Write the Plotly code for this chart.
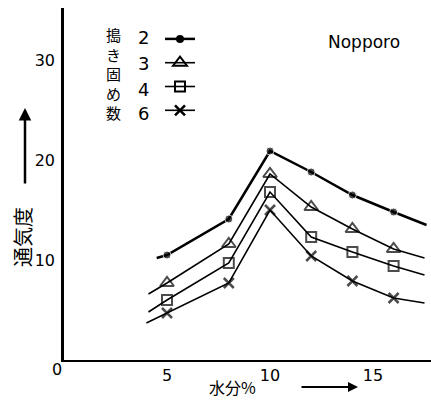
import plotly.graph_objects as go

# ---- data ----
moisture = [5, 8, 10, 12, 14, 16]          # 水分 %
tamp_counts = ["2", "3", "4", "6"]          # 搗き固め数
perm_2 = [10.5, 14.1, 20.9, 18.8, 16.5, 14.8]
perm_3 = [7.7, 11.6, 18.6, 15.3, 13.1, 11.1]
perm_4 = [6.0, 9.7, 16.8, 12.3, 10.8, 9.4]
perm_6 = [4.7, 7.7, 15.0, 10.4, 7.9, 6.2]
# hand-drawn line overhang at both ends (x, y)
ext_left_x = [4.5, 4.1, 4.1, 4.0]
ext_left_y = [10.2, 6.6, 4.8, 3.7]
ext_right_x = [17.6, 17.5, 17.5, 17.5]
ext_right_y = [13.5, 10.2, 8.5, 5.7]
y_ticks = [10, 20, 30]
x_ticks = [5, 10, 15]

# ---- geometry ----
W, H = 431, 400
L, R, T, B = 64, 0, 8, 40
PW, PH = W - L - R, H - T - B

def px(x):
    return (x - L) / PW

def py(y):
    return (H - B - y) / PH

series = [perm_2, perm_3, perm_4, perm_6]
markers = [
    dict(symbol="circle", size=8, color="black"),
    dict(symbol="triangle-up-open", size=12, color="black", line=dict(width=2, color="black")),
    dict(symbol="square-open", size=10, color="black", line=dict(width=2, color="black")),
    dict(symbol="x-thin-open", size=10, color="black", line=dict(width=2.5, color="black")),
]
widths = [2.5, 1.6, 1.6, 1.6]

fig = go.Figure()
for i, vals in enumerate(series):
    xs = [ext_left_x[i]] + moisture + [ext_right_x[i]]
    ys = [ext_left_y[i]] + vals + [ext_right_y[i]]
    m = dict(markers[i])
    m["size"] = [0] + [markers[i]["size"]] * len(moisture) + [0]
    fig.add_trace(go.Scatter(
        x=xs, y=ys, mode="lines+markers", name=tamp_counts[i],
        line=dict(color="black", width=widths[i]),
        marker=m, showlegend=False, cliponaxis=False,
    ))
    # legend sample
    fig.add_trace(go.Scatter(
        x=[None], y=[None], mode="lines+markers", name=" ",
        line=dict(color="black", width=widths[i]),
        marker=markers[i], showlegend=True,
    ))

fig.update_layout(
    width=W, height=H,
    margin=dict(l=L, r=R, t=T, b=B, pad=0),
    paper_bgcolor="white", plot_bgcolor="white",
    font=dict(family="DejaVu Sans", color="black", size=15),
    showlegend=True,
    legend=dict(x=px(160), y=py(22), xanchor="left", yanchor="top",
                bgcolor="rgba(0,0,0,0)", font=dict(size=16),
                itemwidth=30, tracegroupgap=0),
    xaxis=dict(range=[0, PW / 20.6], showgrid=False, zeroline=False,
               showline=True, linecolor="black", linewidth=2,
               tickvals=x_ticks, ticks="", tickfont=dict(size=16),
               ticklabelstandoff=0),
    yaxis=dict(range=[0, PH / 10.0], showgrid=False, zeroline=False,
               showline=True, linecolor="black", linewidth=2.5,
               tickvals=y_ticks, ticks="", tickfont=dict(size=16),
               ticklabelstandoff=3),
)

ann = []
def add_text(x, y, text, size, family="DejaVu Sans", **kw):
    ann.append(dict(x=px(x), y=py(y), xref="paper", yref="paper", text=text,
                    xanchor="center", yanchor="middle", showarrow=False,
                    font=dict(size=size, family=family), **kw))

# origin
add_text(57, 369, "0", 16)
# x title
add_text(232, 387, "水分%", 16, "Noto Sans CJK JP")
ann.append(dict(x=px(358), y=py(387), xref="paper", yref="paper", text="",
                showarrow=True, ax=-58, ay=0, arrowhead=2, arrowsize=1,
                arrowwidth=2, arrowcolor="black"))
# y title
add_text(22, 237, "通気度", 20, "Noto Sans CJK JP", textangle=-90)
ann.append(dict(x=px(25), y=py(108), xref="paper", yref="paper", text="",
                showarrow=True, ax=0, ay=77, arrowhead=2, arrowsize=1,
                arrowwidth=2.5, arrowcolor="black"))
# site label
add_text(364, 42, "Nopporo", 17)
# legend heading
add_text(113, 73, "搗<br>き<br>固<br>め<br>数", 15, "Noto Sans CJK JP")
# legend numbers
for lab, yy in zip(tamp_counts, [37, 63, 90, 113]):
    add_text(143, yy, lab, 18)
fig.update_layout(annotations=ann)

fig.write_html("out.html")
